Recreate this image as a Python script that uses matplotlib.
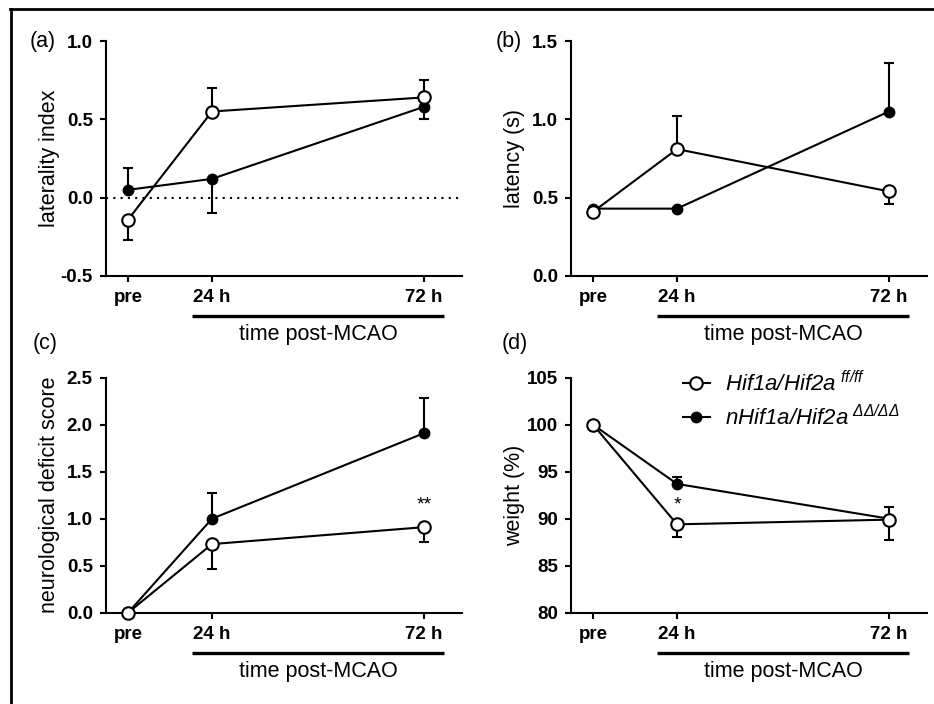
import numpy as np
import matplotlib.pyplot as plt
from matplotlib.lines import Line2D

plt.rcParams['font.family'] = ['Liberation Sans', 'DejaVu Sans']
plt.rcParams['mathtext.fontset'] = 'custom'
plt.rcParams['mathtext.it'] = 'Liberation Sans:italic'
# digitos y simbolos de la leyenda tambien en cursiva
plt.rcParams['mathtext.rm'] = 'Liberation Sans:italic'

# eje de tiempo: "pre" queda un poco despues de 0
time_labels = ["pre", "24 h", "72 h"]
time_hours = [5, 24, 72]

ctrl_name = r"$\mathit{Hif1a/Hif2a}^{\ \mathit{ff/ff}}$"
ko_name = r"$\mathit{nHif1a/Hif2a}^{\ \mathit{ΔΔ/ΔΔ}}$"

# (a) laterality index
lat_ctrl = [-0.14, 0.55, 0.64]
lat_ctrl_lo = [0.13, 0.0, 0.0]
lat_ctrl_hi = [0.0, 0.15, 0.11]
lat_ko = [0.05, 0.12, 0.58]
lat_ko_lo = [0.0, 0.22, 0.08]
lat_ko_hi = [0.14, 0.0, 0.0]

# (b) latency (s)
latn_ctrl = [0.41, 0.81, 0.54]
latn_ctrl_lo = [0.0, 0.0, 0.08]
latn_ctrl_hi = [0.0, 0.21, 0.0]
latn_ko = [0.43, 0.43, 1.05]
latn_ko_lo = [0.0, 0.0, 0.0]
latn_ko_hi = [0.0, 0.0, 0.31]

# (c) neurological deficit score
nds_ctrl = [0.0, 0.73, 0.91]
nds_ctrl_lo = [0.0, 0.27, 0.16]
nds_ctrl_hi = [0.0, 0.0, 0.0]
nds_ko = [0.0, 1.0, 1.91]
nds_ko_lo = [0.0, 0.0, 0.0]
nds_ko_hi = [0.0, 0.27, 0.37]

# (d) weight (%)
w_ctrl = [100.0, 89.4, 89.9]
w_ctrl_lo = [0.0, 1.3, 2.2]
w_ctrl_hi = [0.0, 0.0, 0.0]
w_ko = [100.0, 93.7, 90.0]
w_ko_lo = [0.0, 0.0, 0.0]
w_ko_hi = [0.0, 0.7, 1.2]

fig = plt.figure(figsize=(9.34, 7.04), dpi=100)

W, H = 934, 704
def make_ax(left, top):
    return fig.add_axes([left / W, 1 - (top + 235) / H, 356 / W, 235 / H])

ax_a = make_ax(106, 41)
ax_b = make_ax(571, 41)
ax_c = make_ax(106, 377.7)
ax_d = make_ax(571, 377.7)


def panel(ax, ctrl, c_lo, c_hi, ko, k_lo, k_hi, ylim, yticks, yticklabels, ylabel):
    ax.errorbar(time_hours, ko, yerr=[k_lo, k_hi], fmt='none', ecolor='black',
                elinewidth=1.5, capsize=3.3, capthick=1.5, zorder=2)
    ax.errorbar(time_hours, ctrl, yerr=[c_lo, c_hi], fmt='none', ecolor='black',
                elinewidth=1.5, capsize=3.3, capthick=1.5, zorder=2)
    l_ko, = ax.plot(time_hours, ko, '-o', color='black', lw=1.5, ms=7.5,
                    mfc='black', mec='black', zorder=3, clip_on=False)
    l_ctrl, = ax.plot(time_hours, ctrl, '-o', color='black', lw=1.5, ms=9,
                      mfc='white', mec='black', mew=1.5, zorder=4, clip_on=False)
    ax.set_xlim(0, 80.6)
    ax.set_ylim(*ylim)
    ax.set_xticks(time_hours)
    ax.set_xticklabels(time_labels, fontsize=13.5, fontweight='bold')
    ax.set_yticks(yticks)
    ax.set_yticklabels(yticklabels, fontsize=13.5, fontweight='bold')
    ax.spines['top'].set_visible(False)
    ax.spines['right'].set_visible(False)
    for s in ['left', 'bottom']:
        ax.spines[s].set_linewidth(1.5)
    ax.tick_params(direction='out', length=4.5, width=1.5, pad=5)
    ax.set_ylabel(ylabel, fontsize=15.5)
    ax.yaxis.set_label_coords(-0.128, 0.5)
    # barra "time post-MCAO"
    tr = ax.get_xaxis_transform()
    ax.plot([19.5, 76.5], [-0.17, -0.17], color='black', lw=2.4,
            transform=tr, clip_on=False, solid_capstyle='butt')
    ax.text(48, -0.25, "time post-MCAO", transform=tr, ha='center', va='center',
            fontsize=15.5)
    return l_ctrl, l_ko


panel(ax_a, lat_ctrl, lat_ctrl_lo, lat_ctrl_hi, lat_ko, lat_ko_lo, lat_ko_hi,
      (-0.5, 1.0), [-0.5, 0.0, 0.5, 1.0], ["-0.5", "0.0", "0.5", "1.0"], "laterality index")
ax_a.axhline(0, color='black', lw=1.5, ls=(0, (1, 2.5)), zorder=1)

panel(ax_b, latn_ctrl, latn_ctrl_lo, latn_ctrl_hi, latn_ko, latn_ko_lo, latn_ko_hi,
      (0, 1.5), [0.0, 0.5, 1.0, 1.5], ["0.0", "0.5", "1.0", "1.5"], "latency (s)")

panel(ax_c, nds_ctrl, nds_ctrl_lo, nds_ctrl_hi, nds_ko, nds_ko_lo, nds_ko_hi,
      (0, 2.5), [0.0, 0.5, 1.0, 1.5, 2.0, 2.5],
      ["0.0", "0.5", "1.0", "1.5", "2.0", "2.5"], "neurological deficit score")
ax_c.text(72, 1.15, "**", ha='center', va='center', fontsize=14)

l_ctrl, l_ko = panel(ax_d, w_ctrl, w_ctrl_lo, w_ctrl_hi, w_ko, w_ko_lo, w_ko_hi,
                     (80, 105), [80, 85, 90, 95, 100, 105],
                     ["80", "85", "90", "95", "100", "105"], "weight (%)")
ax_d.text(24, 91.5, "*", ha='center', va='center', fontsize=14)

ax_d.legend([l_ctrl, l_ko], [ctrl_name, ko_name], loc='upper left',
            bbox_to_anchor=(0.315, 1.03), frameon=False, borderpad=0,
            borderaxespad=0, handlelength=1.2, handletextpad=0.7,
            labelspacing=0.4, fontsize=16)

# letras de los paneles
fig.text(43 / W, 1 - 41 / H, "(a)", ha='center', va='center', fontsize=15.5)
fig.text(509 / W, 1 - 41 / H, "(b)", ha='center', va='center', fontsize=15.5)
fig.text(45 / W, 1 - 343 / H, "(c)", ha='center', va='center', fontsize=15.5)
fig.text(515 / W, 1 - 343 / H, "(d)", ha='center', va='center', fontsize=15.5)

# marco arriba e izquierda
fig.add_artist(Line2D([10 / W, 1], [1 - 9 / H, 1 - 9 / H], transform=fig.transFigure,
                      color='black', lw=2))
fig.add_artist(Line2D([11 / W, 11 / W], [0, 1 - 9 / H], transform=fig.transFigure,
                      color='black', lw=2))

fig.savefig("out.png", dpi=100)
